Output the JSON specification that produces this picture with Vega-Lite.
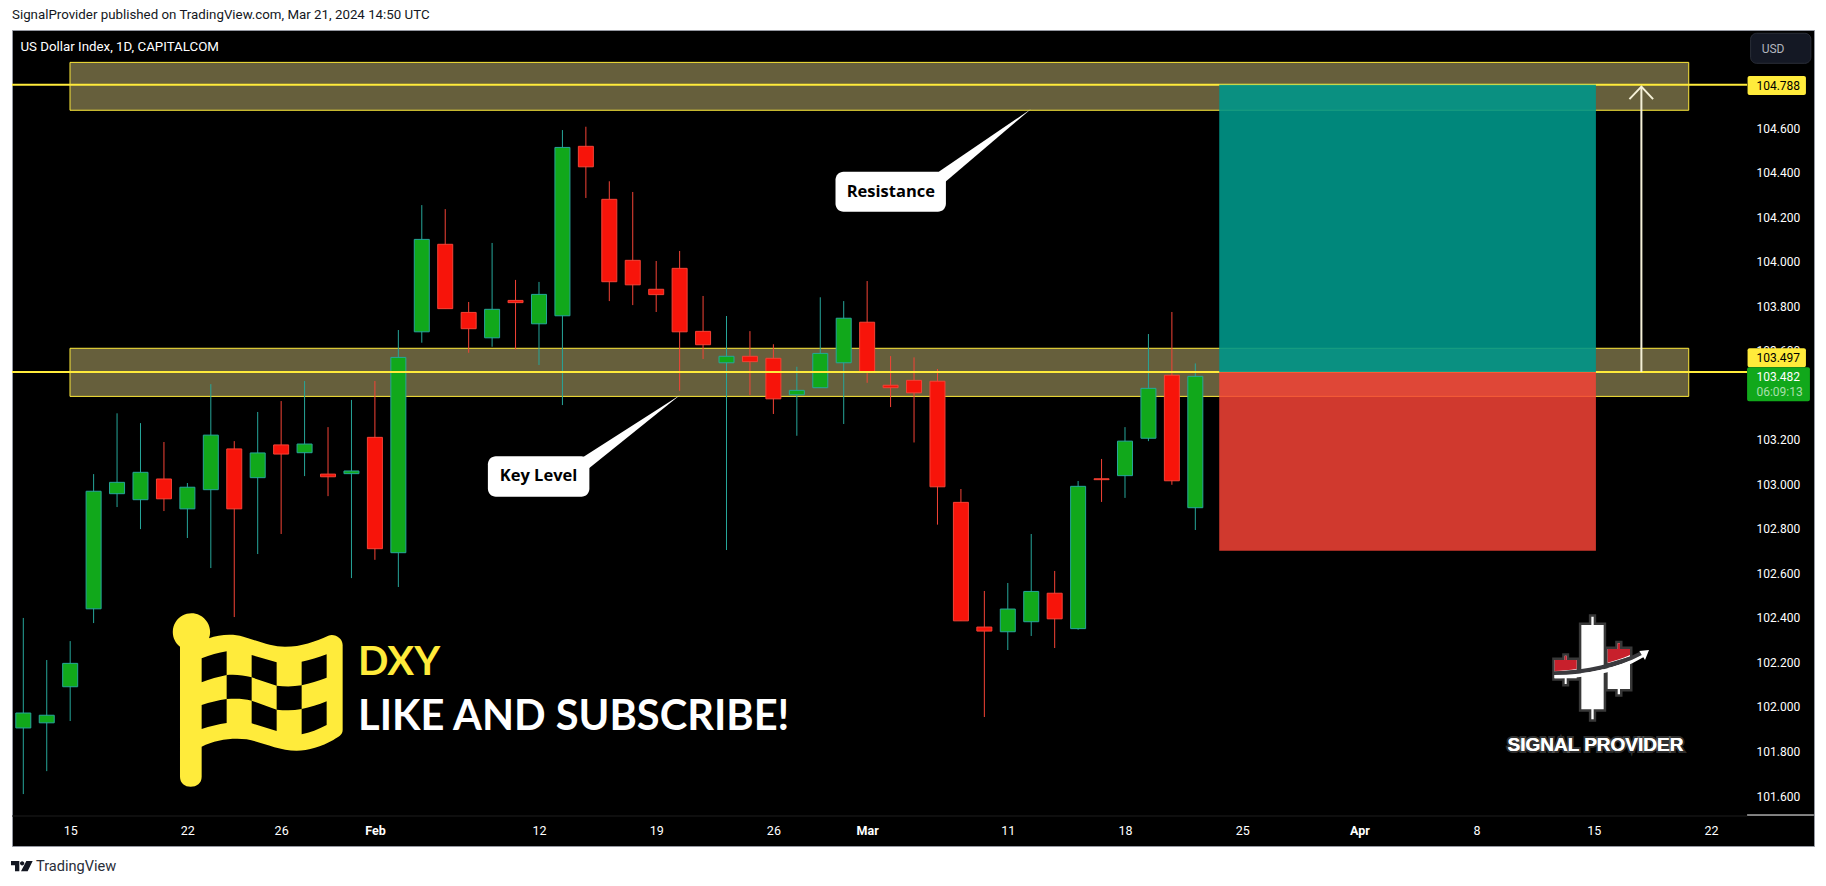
{"$schema":"https://vega.github.io/schema/vega-lite/v6.json","width":1802,"height":816,"autosize":{"type":"none"},"padding":{"left":12,"top":30,"right":12,"bottom":40},"background":"#ffffff","view":{"fill":"#000000","stroke":"#9598a1","strokeWidth":1},
"title":{"text":"SignalProvider published on TradingView.com, Mar 21, 2024 14:50 UTC","anchor":"start","frame":"group","offset":9,"font":"Roboto","fontSize":13.3,"fontWeight":"normal","color":"#131722"},
"datasets":{"candles":[
{"i":0,"o":101.899,"h":102.393,"l":101.602,"c":101.966},{"i":1,"o":101.922,"h":102.204,"l":101.705,"c":101.956},{"i":2,"o":102.084,"h":102.289,"l":101.93,"c":102.189},{"i":3,"o":102.434,"h":103.039,"l":102.37,"c":102.962},{"i":4,"o":102.951,"h":103.312,"l":102.891,"c":103.002},{"i":5,"o":102.924,"h":103.268,"l":102.792,"c":103.047},{"i":6,"o":103.017,"h":103.183,"l":102.873,"c":102.928},{"i":7,"o":102.883,"h":102.999,"l":102.752,"c":102.98},{"i":8,"o":102.969,"h":103.443,"l":102.617,"c":103.214},{"i":9,"o":103.152,"h":103.187,"l":102.397,"c":102.883},{"i":10,"o":103.023,"h":103.318,"l":102.68,"c":103.134},{"i":11,"o":103.17,"h":103.367,"l":102.77,"c":103.129},{"i":12,"o":103.135,"h":103.457,"l":103.03,"c":103.174},{"i":13,"o":103.039,"h":103.25,"l":102.94,"c":103.027},{"i":14,"o":103.041,"h":103.372,"l":102.572,"c":103.053},{"i":15,"o":103.204,"h":103.457,"l":102.654,"c":102.704},{"i":16,"o":102.686,"h":103.686,"l":102.532,"c":103.563},{"i":17,"o":103.678,"h":104.247,"l":103.629,"c":104.093},{"i":18,"o":104.071,"h":104.229,"l":103.782,"c":103.782},{"i":19,"o":103.765,"h":103.812,"l":103.584,"c":103.692},{"i":20,"o":103.651,"h":104.077,"l":103.611,"c":103.779},{"i":21,"o":103.819,"h":103.911,"l":103.599,"c":103.809},{"i":22,"o":103.714,"h":103.902,"l":103.529,"c":103.846},{"i":23,"o":103.75,"h":104.584,"l":103.349,"c":104.506},{"i":24,"o":104.511,"h":104.599,"l":104.279,"c":104.419},{"i":25,"o":104.273,"h":104.354,"l":103.816,"c":103.903},{"i":26,"o":103.999,"h":104.306,"l":103.798,"c":103.889},{"i":27,"o":103.869,"h":103.996,"l":103.767,"c":103.845},{"i":28,"o":103.963,"h":104.041,"l":103.413,"c":103.678},{"i":29,"o":103.68,"h":103.839,"l":103.556,"c":103.62},{"i":30,"o":103.539,"h":103.749,"l":102.698,"c":103.568},{"i":31,"o":103.568,"h":103.681,"l":103.394,"c":103.544},{"i":32,"o":103.559,"h":103.622,"l":103.309,"c":103.377},{"i":33,"o":103.395,"h":103.521,"l":103.211,"c":103.415},{"i":34,"o":103.427,"h":103.833,"l":103.427,"c":103.581},{"i":35,"o":103.539,"h":103.816,"l":103.264,"c":103.739},{"i":36,"o":103.721,"h":103.906,"l":103.449,"c":103.499},{"i":37,"o":103.438,"h":103.569,"l":103.34,"c":103.427},{"i":38,"o":103.46,"h":103.563,"l":103.181,"c":103.404},{"i":39,"o":103.456,"h":103.511,"l":102.812,"c":102.982},{"i":40,"o":102.912,"h":102.972,"l":102.38,"c":102.38},{"i":41,"o":102.352,"h":102.514,"l":101.948,"c":102.334},{"i":42,"o":102.331,"h":102.55,"l":102.249,"c":102.433},{"i":43,"o":102.376,"h":102.77,"l":102.312,"c":102.512},{"i":44,"o":102.504,"h":102.604,"l":102.258,"c":102.389},{"i":45,"o":102.345,"h":103.008,"l":102.34,"c":102.984},{"i":46,"o":103.018,"h":103.107,"l":102.914,"c":103.014},{"i":47,"o":103.032,"h":103.25,"l":102.932,"c":103.187},{"i":48,"o":103.2,"h":103.668,"l":103.187,"c":103.424},{"i":49,"o":103.483,"h":103.767,"l":102.991,"c":103.009},{"i":50,"o":102.888,"h":103.536,"l":102.788,"c":103.478}]},
"encoding":{
"x":{"field":"i","type":"quantitative","title":null,"scale":{"domain":[-0.482,76.394],"nice":false,"zero":false,"padding":0},"axis":{"values":[2,7,11,15,22,27,32,36,42,47,52,57,62,67,72],"labelExpr":"{'2':'15','7':'22','11':'26','15':'Feb','22':'12','27':'19','32':'26','36':'Mar','42':'11','47':'18','52':'25','57':'Apr','62':'8','67':'15','72':'22'}[datum.value]","labelFontWeight":{"condition":{"test":"datum.value==15||datum.value==36||datum.value==57","value":"bold"},"value":"normal"},"orient":"bottom","offset":-30,"domain":false,"ticks":false,"grid":false,"labelColor":"#ffffff","labelFont":"Roboto","labelFontSize":12.5,"labelPadding":8,"labelOverlap":false,"labelFlush":false,"labelAngle":0,"zindex":0}},
"y":{"field":"v","type":"quantitative","title":null,"scale":{"domain":[101.3688,105.0334],"nice":false,"zero":false,"padding":0},"axis":{"values":[104.6,104.4,104.2,104,103.8,103.6,103.4,103.2,103,102.8,102.6,102.4,102.2,102,101.8,101.6],"format":".3f","orient":"right","offset":-67,"domain":false,"ticks":false,"grid":false,"labelColor":"#ffffff","labelFont":"Roboto","labelFontSize":12,"labelPadding":9,"labelOffset":1.5,"labelOverlap":false,"labelFlush":false,"zindex":0}}},
"layer":[
{"data":{"values":[{"i":1.992,"i2":71.05,"v":104.888,"v2":104.673},{"i":1.992,"i2":71.05,"v":103.604,"v2":103.388}]},"mark":{"type":"rect","fill":"#665f3c","stroke":"#ffeb3b","strokeWidth":1},"encoding":{"x2":{"field":"i2"},"y2":{"field":"v2"}}},
{"data":{"name":"candles"},"mark":{"type":"rule","strokeWidth":1},"encoding":{"y":{"field":"h","type":"quantitative","title":null,"scale":{"domain":[101.3688,105.0334],"nice":false,"zero":false,"padding":0}},"y2":{"field":"l"},"color":{"condition":{"test":"datum.c>=datum.o","value":"#26a69a"},"value":"#f44336"}}},
{"data":{"name":"candles"},"mark":{"type":"bar","size":15,"strokeWidth":1},"encoding":{"y":{"field":"o","type":"quantitative","title":null,"scale":{"domain":[101.3688,105.0334],"nice":false,"zero":false,"padding":0}},"y2":{"field":"c"},"fill":{"condition":{"test":"datum.c>=datum.o","value":"#11a81b"},"value":"#f7140a"},"stroke":{"condition":{"test":"datum.c>=datum.o","value":"#26a69a"},"value":"#f44336"}}},
{"data":{"values":[{"i":-0.482,"i2":73.54,"v":104.788},{"i":-0.482,"i2":73.54,"v":103.497}]},"mark":{"type":"rule","color":"#ffeb3b","strokeWidth":2},"encoding":{"x2":{"field":"i2"}}},
{"data":{"values":[{"i":51.02,"i2":67.09,"v":104.788,"v2":103.497}]},"mark":{"type":"rect","fill":"#009688","opacity":0.9},"encoding":{"x2":{"field":"i2"},"y2":{"field":"v2"}}},
{"data":{"values":[{"i":51.02,"i2":67.09,"v":103.497,"v2":102.695}]},"mark":{"type":"rect","fill":"#f44336","opacity":0.85},"encoding":{"x2":{"field":"i2"},"y2":{"field":"v2"}}},
{"data":{"values":[{"i":69.03,"v":103.497,"v2":104.779}]},"mark":{"type":"rule","color":"#f5f1d8","strokeWidth":2},"encoding":{"y2":{"field":"v2"}}},
{"data":{"values":[{"i":68.52,"v":104.723,"o":0},{"i":69.03,"v":104.779,"o":1},{"i":69.53,"v":104.723,"o":2}]},"mark":{"type":"line","color":"#f5f1d8","strokeWidth":2},"encoding":{"order":{"field":"o"}}},
{"data":{"values":[{"i":42.99,"v":104.6786,"n":"Resistance"}]},"mark":{"type":"point","filled":true,"fill":"#ffffff","strokeWidth":0,"opacity":1,"size":4,"shape":"M0 0 L-97 66 L-87 74 Z"},"encoding":{}},
{"data":{"values":[{"i":28.02,"v":103.3942,"n":"Key Level"}]},"mark":{"type":"point","filled":true,"fill":"#ffffff","strokeWidth":0,"opacity":1,"size":4,"shape":"M0 0 L-100 64 L-92 74 Z"},"encoding":{}},
{"data":{"values":[{"i":34.65,"i2":39.36,"v":104.397,"v2":104.2174},{"i":19.82,"i2":24.15,"v":103.1188,"v2":102.9374}]},"mark":{"type":"rect","fill":"#ffffff","cornerRadius":8},"encoding":{"x2":{"field":"i2"},"y2":{"field":"v2"}}},
{"data":{"values":[{"i":37.01,"v":104.2834,"t":"Resistance"},{"i":21.98,"v":103.008,"t":"Key Level"}]},"mark":{"type":"text","font":"Open Sans","fontSize":16.5,"fontWeight":"bold","color":"#000000","align":"center","baseline":"alphabetic"},"encoding":{"text":{"field":"t"}}},
{"data":{"values":[{"i":6.045,"v":102.451}]},"mark":{"type":"point","filled":true,"fill":"#ffeb3b","strokeWidth":0,"opacity":1,"size":0.4444,"shape":"M45 125 A56 56 0 1 1 132 100 C160 90 200 85 235 95 C280 108 320 125 360 125 C410 125 450 110 490 92 C510 85 533 100 533 120 L533 375 C533 390 520 395 505 405 C470 425 430 437 395 437 C340 437 290 410 245 403 C200 398 150 405 110 425 L110 515 C110 535 95 545 77 545 C60 545 45 535 45 515 Z"},"encoding":{}},
{"data":{"values":[{"i":6.045,"v":102.451}]},"mark":{"type":"point","filled":true,"fill":"#000000","strokeWidth":0,"opacity":1,"size":0.4444,"shape":"M110 160 C135 150 160 143 185 139 L185 210 C160 215 135 222 110 232 Z M185 210 C210 208 235 210 260 217 L260 287 C235 280 210 280 185 282 Z M260 150 L335 172 L335 242 L260 217 Z M335 242 C360 245 385 245 410 241 L410 312 C385 317 360 316 335 314 Z M410 170 C435 165 460 157 485 148 L485 218 C460 228 435 235 410 241 Z M110 300 C135 292 160 286 185 282 L185 354 C160 358 135 363 110 372 Z M260 287 L335 314 L335 378 L260 355 Z M410 312 C435 307 460 300 485 289 L485 360 C460 373 435 383 410 388 Z"},"encoding":{}},
{"data":{"values":[{"i":14.28,"v":102.138,"t":"DXY"}]},"mark":{"type":"text","font":"Lato","fontSize":40,"fontWeight":"bold","color":"#ffeb3b","align":"left","baseline":"alphabetic"},"encoding":{"text":{"field":"t"}}},
{"data":{"values":[{"i":14.28,"v":101.891,"t":"LIKE AND SUBSCRIBE!"}]},"mark":{"type":"text","font":"Lato","fontSize":41.6,"fontWeight":"bold","color":"#ffffff","align":"left","baseline":"alphabetic"},"encoding":{"text":{"field":"t"}}},
{"data":{"values":[{"i":62.999,"v":102.4286}]},"mark":{"type":"point","filled":true,"fill":"#ffffff","stroke":"#ffffff","strokeWidth":5,"strokeOpacity":0.22,"opacity":1,"size":0.4444,"shape":"M244 45 H274 V20 H281 V45 H311 V298 H281 V328 H274 V298 H244 Z M323 172 C345 168 370 160 390 152 V237 H360 V253 H353 V237 H323 Z M164 195 H230 V205 H200 V222 H194 V205 H164 Z M323 117 H353 V100 H360 V117 H390 V140 L323 160 Z M164 150 H194 V137 H200 V150 H230 V180 L164 185 Z"},"encoding":{}},
{"data":{"values":[{"i":62.999,"v":102.4286}]},"mark":{"type":"point","filled":true,"fill":"#c8202c","strokeWidth":0,"opacity":1,"size":0.4444,"shape":"M323 117 H353 V100 H360 V117 H390 V135 C370 145 345 152 323 158 Z M164 150 H194 V137 H200 V150 H230 V177 C210 180 185 182 164 183 Z"},"encoding":{}},
{"data":{"values":[{"i":62.999,"v":102.4286}]},"mark":{"type":"point","filled":true,"fill":"#3a3a3e","strokeWidth":0,"opacity":1,"size":0.4444,"shape":"M164 184 C260 180 350 160 420 125 L425 135 C350 175 260 193 164 195 Z"},"encoding":{}},
{"data":{"values":[{"i":62.999,"v":102.4286}]},"mark":{"type":"point","filled":true,"fill":"#ffffff","strokeWidth":0,"opacity":1,"size":0.4444,"shape":"M163 195 C260 195 350 175 425 135 L418 123 L447 120 L435 150 L430 142 C350 190 260 205 163 205 Z"},"encoding":{}},
{"data":{"values":[{"i":67.07,"v":101.7967,"t":"SIGNAL PROVIDER"}]},"mark":{"type":"text","font":"Liberation Sans","fontSize":19,"fontWeight":"bold","color":"#ffffff","stroke":"#ffffff","strokeWidth":4,"strokeOpacity":0.2,"align":"center","baseline":"alphabetic"},"encoding":{"text":{"field":"t"}}},
{"data":{"values":[{"i":67.07,"v":101.7967,"t":"SIGNAL PROVIDER"}]},"mark":{"type":"text","font":"Liberation Sans","fontSize":19,"fontWeight":"bold","color":"#ffffff","align":"center","baseline":"alphabetic"},"encoding":{"text":{"field":"t"}}},
{"data":{"values":[{"i":-0.124,"v":104.9584,"t":"US Dollar Index, 1D, CAPITALCOM"}]},"mark":{"type":"text","font":"Roboto","fontSize":13.3,"color":"#ffffff","align":"left","baseline":"middle"},"encoding":{"text":{"field":"t"}}},
{"data":{"values":[{"i":73.69,"i2":76.26,"v":105.0186,"v2":104.8838}]},"mark":{"type":"rect","fill":"#141824","stroke":"#2a2e39","strokeWidth":1,"cornerRadius":6},"encoding":{"x2":{"field":"i2"},"y2":{"field":"v2"}}},
{"data":{"values":[{"i":74.16,"v":104.9503,"t":"USD"}]},"mark":{"type":"text","font":"Roboto","fontSize":12,"color":"#b2b5be","align":"left","baseline":"middle"},"encoding":{"text":{"field":"t"}}},
{"data":{"values":[{"i":73.56,"i2":76.05,"v":104.8268,"v2":104.7415},{"i":73.56,"i2":76.05,"v":103.6039,"v2":103.5186}]},"mark":{"type":"rect","fill":"#ffeb3b","cornerRadius":2},"encoding":{"x2":{"field":"i2"},"y2":{"field":"v2"}}},
{"data":{"values":[{"i":73.54,"i2":76.22,"v":103.5186,"v2":103.3659}]},"mark":{"type":"rect","fill":"#11a81b","cornerRadius":2},"encoding":{"x2":{"field":"i2"},"y2":{"field":"v2"}}},
{"data":{"values":[{"i":73.94,"v":104.7841,"t":"104.788"},{"i":73.94,"v":103.5603,"t":"103.497"}]},"mark":{"type":"text","font":"Roboto","fontSize":12,"color":"#000000","align":"left","baseline":"middle"},"encoding":{"text":{"field":"t"}}},
{"data":{"values":[{"i":73.94,"v":103.475,"t":"103.482"}]},"mark":{"type":"text","font":"Roboto","fontSize":12,"color":"#ffffff","align":"left","baseline":"middle"},"encoding":{"text":{"field":"t"}}},
{"data":{"values":[{"i":73.94,"v":103.4076,"t":"06:09:13"}]},"mark":{"type":"text","font":"Roboto","fontSize":12,"color":"#a8dfab","align":"left","baseline":"middle"},"encoding":{"text":{"field":"t"}}},
{"data":{"values":[{"i":73.54,"i2":76.39,"v":101.5079}]},"mark":{"type":"rule","color":"#ffffff","strokeWidth":1},"encoding":{"x2":{"field":"i2"}}},
{"data":{"values":[{"i":-0.482,"i2":73.54,"v":101.5035}]},"mark":{"type":"rule","color":"#1c1c1c","strokeWidth":1},"encoding":{"x2":{"field":"i2"}}},
{"data":{"values":[{"i":-0.525,"v":101.3013}]},"mark":{"type":"point","filled":true,"fill":"#131722","strokeWidth":0,"opacity":1,"size":0.4444,"shape":"M0 0 H25 V31 H12 V13 H0 Z M27 7 A6.5 6.5 0 1 1 40 7 A6.5 6.5 0 1 1 27 7 Z M46 0 H65 L50 31 H30 Z"},"encoding":{}},
{"data":{"values":[{"i":0.54,"v":101.2565,"t":"TradingView"}]},"mark":{"type":"text","font":"Roboto","fontSize":14.6,"color":"#2a2e39","align":"left","baseline":"alphabetic"},"encoding":{"text":{"field":"t"}}}
]}
